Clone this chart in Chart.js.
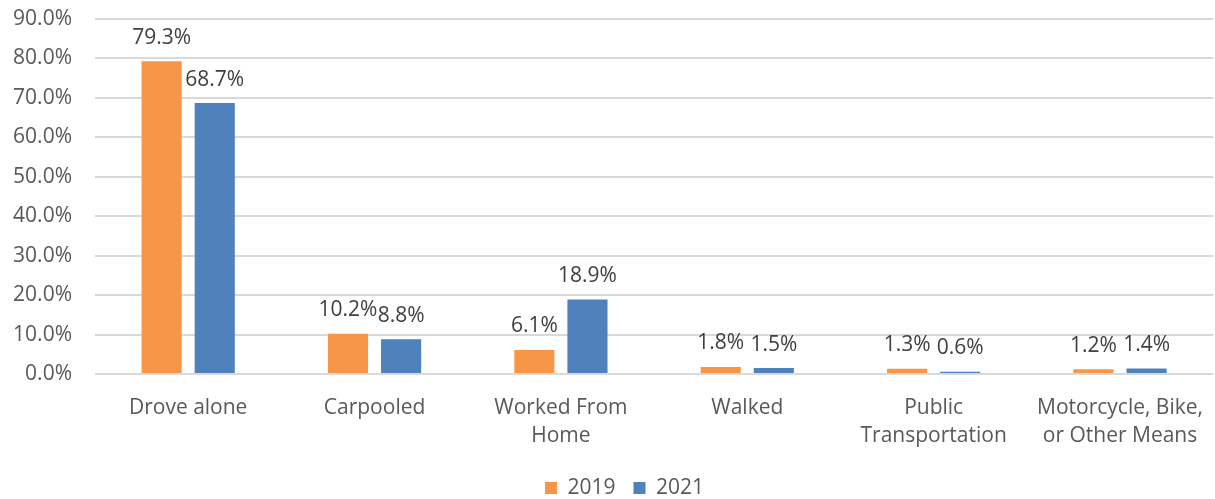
<!DOCTYPE html>
<html>
<head>
<meta charset="utf-8">
<script src="https://cdn.jsdelivr.net/npm/chart.js@4.4.0/dist/chart.umd.min.js"></script>
<style>
  html, body { margin: 0; padding: 0; background: #fff; }
  #wrap { width: 1215px; height: 499px; }
</style>
</head>
<body>
<div id="wrap"><canvas id="chart" width="1215" height="499"></canvas></div>
<script>
const categories = [
  'Drove alone',
  'Carpooled',
  ['Worked From', 'Home'],
  'Walked',
  ['Public', 'Transportation'],
  ['Motorcycle, Bike,', 'or Other Means']
];
const values2019 = [79.3, 10.2, 6.1, 1.8, 1.3, 1.2];
const values2021 = [68.7, 8.8, 18.9, 1.5, 0.6, 1.4];
const yTicks = [0, 10, 20, 30, 40, 50, 60, 70, 80, 90];

const fontFamily = "'Open Sans', 'Noto Sans', sans-serif";
const textColor = '#595959';

// 막대 위 값 라벨
const valueLabels = {
  id: 'valueLabels',
  afterDatasetsDraw(chart) {
    const ctx = chart.ctx;
    ctx.save();
    ctx.font = `21px ${fontFamily}`;
    ctx.fillStyle = '#404040';
    ctx.textAlign = 'center';
    ctx.textBaseline = 'bottom';
    chart.data.datasets.forEach((ds, di) => {
      chart.getDatasetMeta(di).data.forEach((bar, i) => {
        ctx.fillText(ds.data[i].toFixed(1) + '%', bar.x, bar.y - 13);
      });
    });
    ctx.restore();
  }
};

// 범례를 살짝 오른쪽으로
const legendShift = {
  id: 'legendShift',
  afterLayout(chart) {
    if (chart.legend) { chart.legend.left += 17; chart.legend.right += 17; }
  }
};

new Chart(document.getElementById('chart'), {
  type: 'bar',
  data: {
    labels: categories,
    datasets: [
      { label: '2019', data: values2019, backgroundColor: '#f79646', borderWidth: 0 },
      { label: '2021', data: values2021, backgroundColor: '#4f81bd', borderWidth: 0 }
    ]
  },
  options: {
    responsive: false,
    animation: false,
    devicePixelRatio: 1,
    categoryPercentage: 0.57,
    barPercentage: 0.755,
    layout: { padding: { top: 19, right: 0, left: 0, bottom: -9.5 } },
    plugins: {
      legend: {
        position: 'bottom',
        labels: {
          color: textColor,
          font: { size: 21, family: fontFamily, lineHeight: 1 },
          boxWidth: 12,
          boxHeight: 12,
          padding: 18
        }
      },
      tooltip: { enabled: false }
    },
    scales: {
      x: {
        grid: { display: false },
        border: { display: false },
        ticks: {
          color: textColor,
          font: { size: 21, family: fontFamily, lineHeight: 1.33 },
          maxRotation: 0,
          autoSkip: false,
          padding: 12
        },
        afterFit: s => { s.height = 85.5; }
      },
      y: {
        min: 0,
        max: 90,
        afterBuildTicks: s => { s.ticks = yTicks.map(v => ({ value: v })); },
        grid: { color: '#d9d9d9', lineWidth: 2, tickLength: 18, tickColor: 'rgba(0,0,0,0)' },
        border: { display: false },
        ticks: {
          color: textColor,
          font: { size: 21, family: fontFamily },
          padding: 5,
          callback: v => v.toFixed(1) + '%'
        },
        afterFit: s => { s.width = 95; }
      }
    }
  },
  plugins: [valueLabels, legendShift]
});
</script>
</body>
</html>
